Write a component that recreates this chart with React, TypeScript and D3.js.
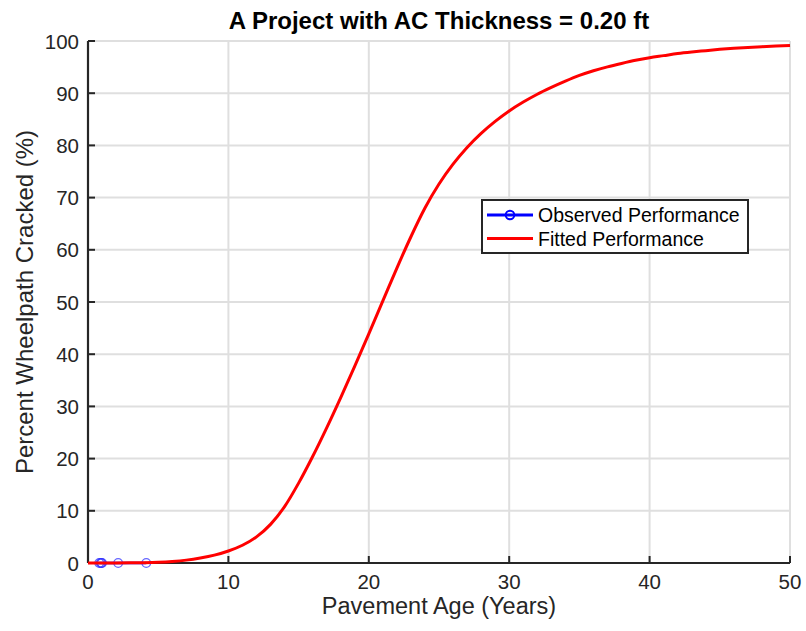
import React from "react";
import * as d3 from "d3";

// Fitted cracking curve: pavement age (years) vs. percent wheelpath cracked
const fitAge = [0, 1, 2, 3, 4, 5, 6, 7, 8, 9, 10, 11, 12, 13, 14, 15, 16, 17, 18, 19, 20, 21, 22, 23, 24, 25, 26, 27, 28, 29, 30, 31, 32, 33, 34, 35, 36, 37, 38, 39, 40, 41, 42, 43, 44, 45, 46, 47, 48, 49, 50];
const fitPct = [0, 0, 0.01, 0.03, 0.07, 0.15, 0.3, 0.55, 0.95, 1.5, 2.3, 3.4, 5.0, 7.4, 10.8, 15.3, 20.4, 25.9, 31.7, 37.7, 43.9, 50.2, 56.5, 62.5, 68.0, 72.6, 76.4, 79.6, 82.3, 84.6, 86.6, 88.3, 89.8, 91.1, 92.3, 93.4, 94.3, 95.05, 95.7, 96.3, 96.8, 97.2, 97.6, 97.9, 98.15, 98.4, 98.6, 98.75, 98.9, 99.05, 99.15];

// Observed survey results
const obsAge = [0.8, 0.9, 0.95, 1.0, 2.15, 4.15];
const obsPct = [0, 0, 0, 0, 0, 0];

const xTicks = [0, 10, 20, 30, 40, 50];
const yTicks = [0, 10, 20, 30, 40, 50, 60, 70, 80, 90, 100];

const titleText = "A Project with AC Thickness = 0.20 ft";
const xLabel = "Pavement Age (Years)";
const yLabel = "Percent Wheelpath Cracked (%)";
const legendLabels = ["Observed Performance", "Fitted Performance"];

const W = 806;
const H = 631;
const m = { left: 88, right: 16, top: 41, bottom: 68 };
const FONT = "'Liberation Sans', Arial, Helvetica, sans-serif";
const AXIS = "#262626";
const GRID = "#dfdfdf";

export default function App() {
  const x = d3.scaleLinear().domain([0, 50]).range([m.left, W - m.right]);
  const y = d3.scaleLinear().domain([0, 100]).range([H - m.bottom, m.top]);

  const fitData = fitAge.map((a, i) => [a, fitPct[i]] as [number, number]);
  const obsData = obsAge.map((a, i) => [a, obsPct[i]] as [number, number]);

  const line = d3
    .line<[number, number]>()
    .x((d) => x(d[0]))
    .y((d) => y(d[1]))
    .curve(d3.curveMonotoneX);

  const x0 = x(0);
  const x1 = x(50);
  const y0 = y(0);
  const y1 = y(100);

  const legX = 482;
  const legY = 200;
  const legW = 266;
  const legH = 53;

  return (
    <svg
      width={W}
      height={H}
      style={{ position: "absolute", left: 0, top: 0, background: "#fff" }}
      fontFamily={FONT}
    >
      <rect x={0} y={0} width={W} height={H} fill="#fff" />

      {/* grid */}
      {xTicks.map((t) => (
        <line key={"gx" + t} x1={x(t)} x2={x(t)} y1={y1} y2={y0} stroke={GRID} strokeWidth={2} />
      ))}
      {yTicks.map((t) => (
        <line key={"gy" + t} x1={x0} x2={x1} y1={y(t)} y2={y(t)} stroke={GRID} strokeWidth={2} />
      ))}

      {/* top / right frame */}
      <line x1={x0} x2={x1} y1={y1} y2={y1} stroke={GRID} strokeWidth={2} />
      <line x1={x1} x2={x1} y1={y1} y2={y0} stroke={GRID} strokeWidth={2} />

      {/* axes */}
      <line x1={x0} x2={x1} y1={y0} y2={y0} stroke={AXIS} strokeWidth={2.2} />
      <line x1={x0} x2={x0} y1={y1} y2={y0} stroke={AXIS} strokeWidth={2.2} />
      {xTicks.map((t) => (
        <line key={"tx" + t} x1={x(t)} x2={x(t)} y1={y0} y2={y0 - 7} stroke={AXIS} strokeWidth={2} />
      ))}
      {yTicks.map((t) => (
        <line key={"ty" + t} x1={x0} x2={x0 + 7} y1={y(t)} y2={y(t)} stroke={AXIS} strokeWidth={2} />
      ))}

      {/* tick labels */}
      {xTicks.map((t) => (
        <text key={"lx" + t} x={x(t)} y={589} textAnchor="middle" fontSize={20.5} fill={AXIS}>
          {t}
        </text>
      ))}
      {yTicks.map((t) => (
        <text key={"ly" + t} x={79} y={y(t) + 7.5} textAnchor="end" fontSize={20.5} fill={AXIS}>
          {t}
        </text>
      ))}

      {/* axis titles */}
      <text x={(x0 + x1) / 2} y={614} textAnchor="middle" fontSize={23.5} fill={AXIS}>
        {xLabel}
      </text>
      <text
        transform={`translate(33,${(y0 + y1) / 2}) rotate(-90)`}
        textAnchor="middle"
        fontSize={24}
        fill={AXIS}
      >
        {yLabel}
      </text>
      <text x={(x0 + x1) / 2} y={29} textAnchor="middle" fontSize={24} fontWeight="bold" fill="#000">
        {titleText}
      </text>

      {/* observed series */}
      <path d={line(obsData) || ""} fill="none" stroke="#0000ff" strokeWidth={2.5} />
      {obsData.map((d, i) => (
        <circle
          key={"o" + i}
          cx={x(d[0])}
          cy={y(d[1])}
          r={4.3}
          fill="none"
          stroke="#3333ff"
          strokeOpacity={0.75}
          strokeWidth={1.3}
        />
      ))}

      {/* fitted series */}
      <path d={line(fitData) || ""} fill="none" stroke="#ff0000" strokeWidth={3} strokeLinejoin="round" />

      {/* legend */}
      <rect x={legX} y={legY} width={legW} height={legH} fill="#fff" stroke={AXIS} strokeWidth={2} />
      <line x1={487} x2={533} y1={215} y2={215} stroke="#0000ff" strokeWidth={3} />
      <circle cx={510} cy={215} r={4.3} fill="none" stroke="#0000ff" strokeWidth={2} />
      <line x1={487} x2={533} y1={238.5} y2={238.5} stroke="#ff0000" strokeWidth={3} />
      <text x={538} y={222} fontSize={19.5} fill="#000">
        {legendLabels[0]}
      </text>
      <text x={538} y={245.5} fontSize={19.5} fill="#000">
        {legendLabels[1]}
      </text>
    </svg>
  );
}
